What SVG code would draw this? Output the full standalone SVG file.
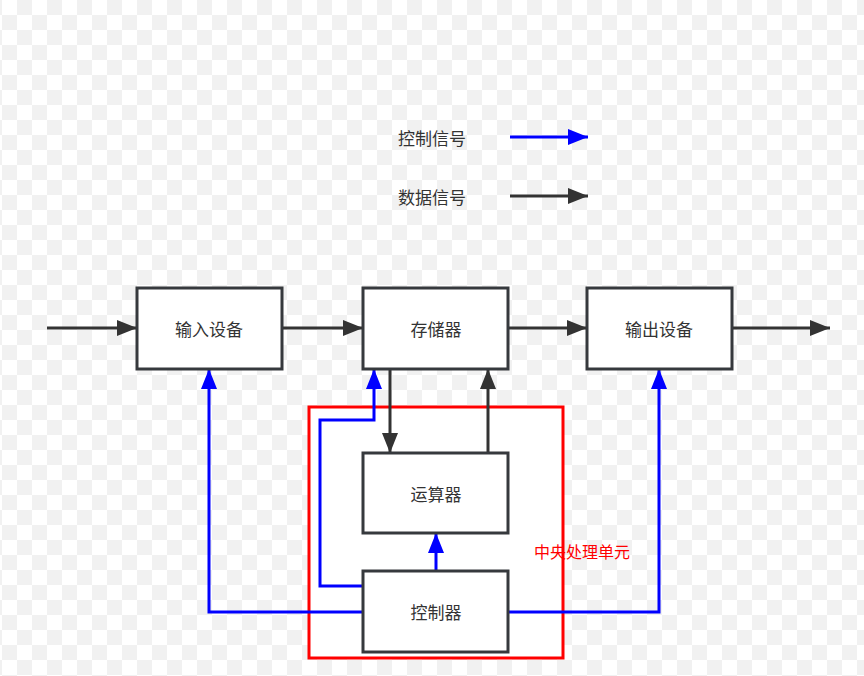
<svg xmlns="http://www.w3.org/2000/svg" width="864" height="676" viewBox="0 0 864 676">
<defs>
<pattern id="chk" x="2" y="0" width="30" height="30" patternUnits="userSpaceOnUse">
<rect x="15" y="0" width="15" height="15" fill="#f1f1f1"/><rect x="0" y="15" width="15" height="15" fill="#f1f1f1"/>
</pattern>
<marker id="ak" viewBox="0 0 10 10" refX="10" refY="5" markerWidth="7" markerHeight="7" markerUnits="userSpaceOnUse" orient="auto"><path d="M0,0 L10,5 L0,10 z" fill="#333"/></marker>
<marker id="ab" viewBox="0 0 10 10" refX="10" refY="5" markerWidth="7" markerHeight="7" markerUnits="userSpaceOnUse" orient="auto"><path d="M0,0 L10,5 L0,10 z" fill="#0000ff"/></marker>
<marker id="akL" viewBox="0 0 10 10" refX="10" refY="5" markerWidth="20" markerHeight="16" markerUnits="userSpaceOnUse" orient="auto" preserveAspectRatio="none"><path d="M0,0 L10,5 L0,10 z" fill="#333"/></marker>
<marker id="abL" viewBox="0 0 10 10" refX="10" refY="5" markerWidth="20" markerHeight="16" markerUnits="userSpaceOnUse" orient="auto" preserveAspectRatio="none"><path d="M0,0 L10,5 L0,10 z" fill="#0000ff"/></marker>
</defs>
<style>
.box{fill:#fff;stroke:#36393d;stroke-width:3}
.t{font-family:"Noto Sans CJK SC",sans-serif;font-size:17px;fill:#333;text-anchor:middle;dominant-baseline:central}
.k{fill:none;stroke:#333;stroke-width:3;marker-end:url(#akL)}
.b{fill:none;stroke:#0000ff;stroke-width:3;marker-end:url(#abL)}
.bn{fill:none;stroke:#0000ff;stroke-width:3}
</style>
<rect width="864" height="676" fill="#fff"/>
<rect width="864" height="676" fill="url(#chk)"/>
<g id="legend">
<text class="t" x="432" y="137">控制信号</text>
<text class="t" x="432" y="196">数据信号</text>
<line class="b" x1="510" y1="137" x2="588" y2="137"/>
<line class="k" x1="510" y1="196" x2="588" y2="196"/>
</g>
<g id="cpu"><rect x="309" y="407" width="254" height="251" fill="#fff" stroke="#ff0000" stroke-width="3"/>
<text x="582" y="551" font-family="Noto Sans CJK SC,sans-serif" font-size="16" fill="#ff0000" text-anchor="middle" dominant-baseline="central">中央处理单元</text></g>
<g id="connectors">
<line class="k" x1="47" y1="328" x2="137" y2="328"/>
<line class="k" x1="282" y1="328" x2="363" y2="328"/>
<line class="k" x1="508" y1="328" x2="587" y2="328"/>
<line class="k" x1="732" y1="328" x2="830" y2="328"/>
<line class="k" x1="390" y1="369" x2="390" y2="453"/>
<line class="k" x1="488" y1="453" x2="488" y2="369"/>
<line class="b" x1="436" y1="571" x2="436" y2="533"/>
<polyline class="b" points="363,586 320,586 320,420 374,420 374,369"/>
<polyline class="b" points="363,612 209,612 209,369"/>
<polyline class="b" points="508,612 659,612 659,369"/>
</g>
<g id="n1"><rect class="box" x="137" y="288" width="145" height="81"/><text class="t" x="209" y="328">输入设备</text></g>
<g id="n2"><rect class="box" x="363" y="288" width="145" height="81"/><text class="t" x="436" y="328">存储器</text></g>
<g id="n3"><rect class="box" x="587" y="288" width="145" height="81"/><text class="t" x="659" y="328">输出设备</text></g>
<g id="n4"><rect class="box" x="363" y="453" width="145" height="80"/><text class="t" x="436" y="493">运算器</text></g>
<g id="n5"><rect class="box" x="363" y="571" width="145" height="81"/><text class="t" x="436" y="611">控制器</text></g>
</svg>
